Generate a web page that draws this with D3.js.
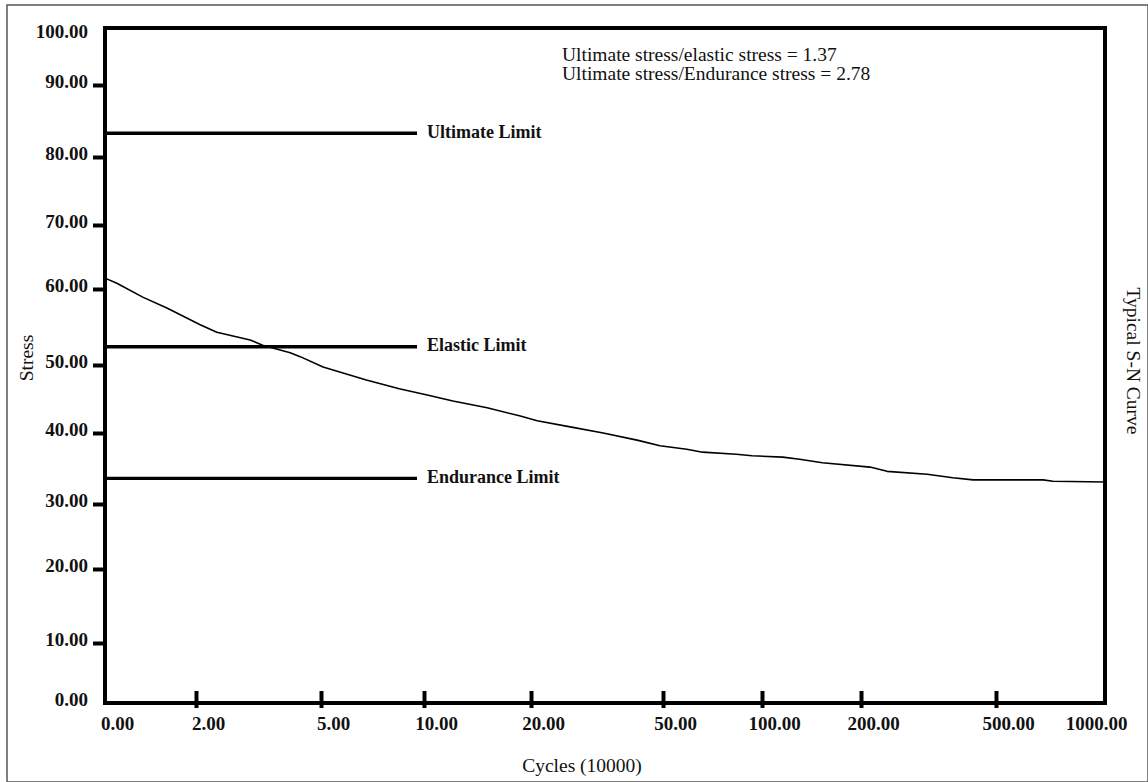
<!DOCTYPE html>
<html>
<head>
<meta charset="utf-8">
<script src="https://cdn.jsdelivr.net/npm/d3@7"></script>
<style>
  html, body { margin: 0; padding: 0; background: #fff; }
  svg { display: block; }
  text { font-family: "Liberation Serif", "Times New Roman", serif; fill: #111; }
</style>
</head>
<body>
<svg id="chart" width="1148" height="782"></svg>
<script>
// ---- data ----
const cycleTicks = [0, 2, 5, 10, 20, 50, 100, 200, 500, 1000];
const stressTicks = [0, 10, 20, 30, 40, 50, 60, 70, 80, 90, 100];

const curveCycles = [0, 0.26, 0.84, 1.36, 2.1, 2.5, 3.3, 3.6, 4.26, 4.5, 5.1, 7.2, 8.8,
  10.3, 12.7, 15.9, 19, 21.4, 28.9, 36.4, 44.1, 49.3, 62, 70, 87, 95, 121, 138, 161,
  220, 258, 347, 404, 449, 716, 761, 1000];
const curveStress = [61.7, 60.9, 58.9, 57.5, 55.3, 54.3, 53.3, 52.6, 51.6, 51.1, 49.7, 47.8, 46.5,
  45.6, 44.7, 43.7, 42.5, 41.8, 40.9, 40.0, 39.0, 38.2, 37.7, 37.3, 37.0, 36.8, 36.6, 36.3, 35.8,
  35.2, 34.6, 34.2, 33.7, 33.4, 33.4, 33.2, 33.1];

const limitNames = ["Ultimate Limit", "Elastic Limit", "Endurance Limit"];
const limitValues = [83.3, 52.4, 33.6];
const limitCycleExtent = [0, 9.66];

const annotationLines = [
  "Ultimate stress/elastic stress = 1.37",
  "Ultimate stress/Endurance stress = 2.78"
];
const xTitle = "Cycles (10000)";
const yTitle = "Stress";
const sideTitle = "Typical S-N Curve";

// ---- layout ----
const svg = d3.select("#chart");
const plotL = 105, plotR = 1105, plotT = 28, plotB = 703;

// piecewise scales (the printed axis spacing is uneven)
const x = d3.scaleLinear()
  .domain(cycleTicks)
  .range([plotL, 196, 321, 424, 531, 663, 762, 861, 996, plotR]);
const y = d3.scaleLinear()
  .domain(stressTicks)
  .range([plotB, 643, 569, 504, 433, 365, 289, 225, 157, 85, plotT]);

// outer frame
svg.append("rect")
  .attr("x", 7).attr("y", 5).attr("width", 1141).attr("height", 777)
  .attr("fill", "none").attr("stroke", "#555").attr("stroke-width", 1.5);

// plot frame
svg.append("rect")
  .attr("x", plotL).attr("y", plotT)
  .attr("width", plotR - plotL).attr("height", plotB - plotT)
  .attr("fill", "none").attr("stroke", "#000").attr("stroke-width", 4);

const fmt = d3.format(".2f");

// y axis
const yAxis = svg.append("g")
  .attr("transform", `translate(${plotL},0)`)
  .call(d3.axisLeft(y).tickValues(stressTicks).tickSize(12).tickPadding(5).tickFormat(fmt));
yAxis.select(".domain").remove();
yAxis.selectAll(".tick line")
  .attr("stroke", "#000").attr("stroke-width", 4)
  .attr("display", d => d === 0 || d === 100 ? "none" : null);
yAxis.selectAll(".tick text")
  .attr("x", -17).attr("dy", "0.12em")
  .style("font-size", "19px").style("font-weight", "bold")
  .attr("fill", "#111");
yAxis.selectAll(".tick").filter(d => d === 100).select("text").attr("dy", "0.5em");

// x axis
const xAxis = svg.append("g")
  .attr("transform", `translate(0,${plotB})`)
  .call(d3.axisBottom(x).tickValues(cycleTicks).tickSize(5).tickFormat(fmt));
xAxis.select(".domain").remove();
xAxis.selectAll(".tick line")
  .attr("y1", -12)
  .attr("stroke", "#000").attr("stroke-width", 4)
  .attr("display", d => d === 0 || d === 1000 ? "none" : null);
xAxis.selectAll(".tick text")
  .attr("y", 27).attr("dy", 0)
  .attr("dx", d => d === 1000 ? -9 : 12)
  .style("font-size", "19px").style("font-weight", "bold")
  .attr("fill", "#111");

// limit lines
const limits = limitNames.map((n, i) => ({ name: n, value: limitValues[i] }));
const lg = svg.append("g");
lg.selectAll("line").data(limits).join("line")
  .attr("x1", x(limitCycleExtent[0])).attr("x2", x(limitCycleExtent[1]))
  .attr("y1", d => y(d.value)).attr("y2", d => y(d.value))
  .attr("stroke", "#000").attr("stroke-width", 3.3);
lg.selectAll("text").data(limits).join("text")
  .attr("x", x(limitCycleExtent[1]) + 10)
  .attr("y", d => y(d.value) + 4.5)
  .style("font-size", "18px").style("font-weight", "bold")
  .text(d => d.name);

// S-N curve
const pts = curveCycles.map((c, i) => [c, curveStress[i]]);
svg.append("path")
  .datum(pts)
  .attr("fill", "none").attr("stroke", "#000").attr("stroke-width", 1.6)
  .attr("stroke-linejoin", "round")
  .attr("d", d3.line().x(d => x(d[0])).y(d => y(d[1])));

// annotation
svg.append("g").selectAll("text").data(annotationLines).join("text")
  .attr("x", 562).attr("y", (d, i) => 61 + i * 19)
  .style("font-size", "19.5px")
  .text(d => d);

// titles
svg.append("text")
  .attr("x", 582).attr("y", 772).attr("text-anchor", "middle")
  .style("font-size", "19.5px").text(xTitle);
svg.append("text")
  .attr("transform", "translate(33,358) rotate(-90)").attr("text-anchor", "middle")
  .style("font-size", "19.5px").text(yTitle);
svg.append("text")
  .attr("transform", "translate(1127,361) rotate(90)").attr("text-anchor", "middle")
  .style("font-size", "19.5px").text(sideTitle);
</script>
</body>
</html>
